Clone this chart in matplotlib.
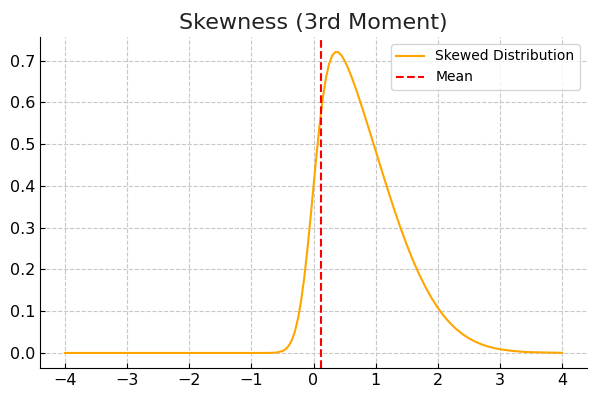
import matplotlib
matplotlib.use("Agg")
import matplotlib.pyplot as plt

# values
x_vals = [-4.0, -3.0, -2.0, -1.0, -0.8, -0.7, -0.6, -0.5, -0.45, -0.4, -0.35, -0.3,
          -0.25, -0.2, -0.15, -0.1, -0.05, 0.0, 0.05, 0.1, 0.15, 0.2, 0.25, 0.3,
          0.35, 0.4, 0.45, 0.5, 0.55, 0.6, 0.65, 0.7, 0.8, 0.9, 1.0, 1.1, 1.2, 1.3, 1.4, 1.5,
          1.6, 1.7, 1.8, 1.9, 2.0, 2.1, 2.2, 2.3, 2.4, 2.5, 2.6, 2.7, 2.8, 2.9, 3.0,
          3.2, 3.4, 3.5, 4.0]
y_vals = [0.0, 0.0, 0.0, 0.0, 0.00002, 0.00015, 0.0009, 0.0044, 0.0088, 0.0168, 0.0301, 0.0510,
          0.0817, 0.1241, 0.1788, 0.2450, 0.3198, 0.3989, 0.4770, 0.5491, 0.6102, 0.6579, 0.6917, 0.7118,
          0.7203, 0.7198, 0.7122, 0.6998, 0.6838, 0.6655, 0.6456, 0.6245, 0.5794, 0.5322, 0.4840, 0.4358,
          0.3884, 0.3428, 0.2994, 0.2590,
          0.2218, 0.1880, 0.1580, 0.1312, 0.1080, 0.0880, 0.0710, 0.0566, 0.0448, 0.0350, 0.0272,
          0.0208, 0.0158, 0.0119, 0.0088,
          0.0048, 0.0025, 0.0018, 0.0003]
mean_x = 0.12

fig = plt.figure(figsize=(5.91, 3.98), dpi=100)
ax = fig.add_axes([40 / 591, 30 / 398, 547 / 591, 331 / 398])

ax.plot(x_vals, y_vals, color="orange", lw=1.5, label="Skewed Distribution")
ax.axvline(mean_x, color="red", ls="--", lw=1.5, label="Mean")

ax.set_title("Skewness (3rd Moment)", fontsize=16, color="#222222")
ax.grid(True, ls="--", color="#c8c8c8", lw=0.8)
ax.set_axisbelow(True)
ax.spines["top"].set_visible(False)
ax.spines["right"].set_visible(False)
ax.tick_params(direction="in", labelsize=11.5)
ax.set_yticks([0.0, 0.1, 0.2, 0.3, 0.4, 0.5, 0.6, 0.7])
ax.legend(loc="upper right", fontsize=10)

fig.savefig("out.png", dpi=100)
